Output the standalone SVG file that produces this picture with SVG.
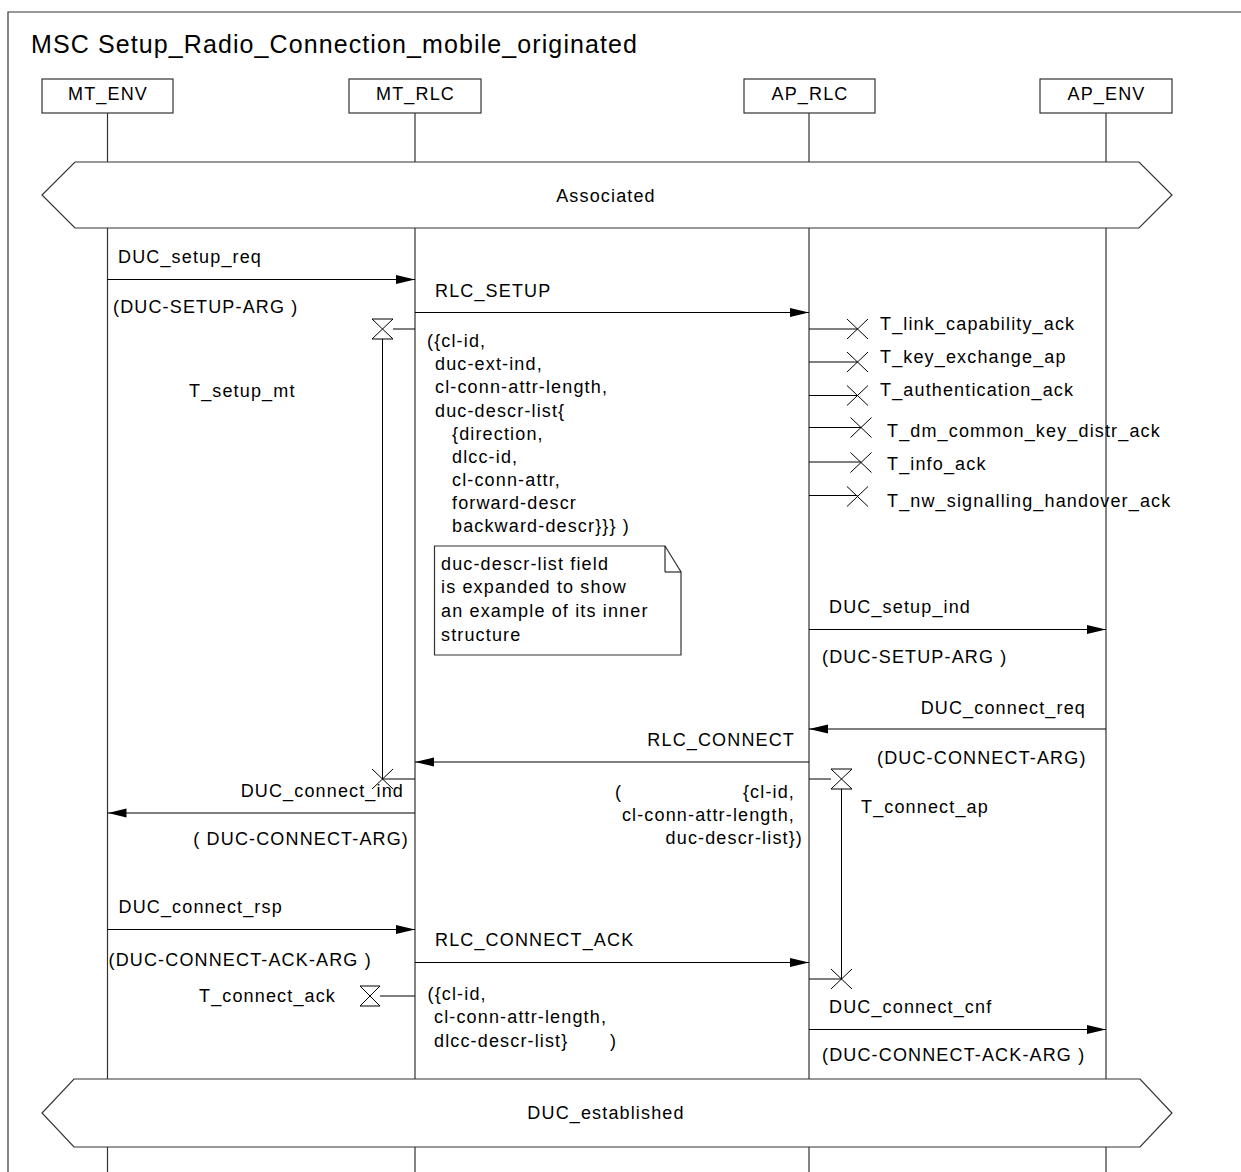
<svg xmlns="http://www.w3.org/2000/svg" width="1241" height="1172" viewBox="0 0 1241 1172">
<style>
text{font-family:"Liberation Sans",Arial,sans-serif;font-size:18px;letter-spacing:1.15px;fill:#000}
.title{font-size:25px;letter-spacing:1.1px}
.e{text-anchor:end}
.m{text-anchor:middle}
.ll{stroke:#333;stroke-width:1.2;fill:none}
.msg{stroke:#000;stroke-width:1.2;fill:none}
.box{fill:#fff;stroke:#333;stroke-width:1.2}
.tm{fill:#fff;stroke:#000;stroke-width:1}
.x{stroke:#000;stroke-width:1;fill:none}
</style>
<defs>
<marker id="ah" markerUnits="userSpaceOnUse" markerWidth="19" markerHeight="10" refX="19" refY="4.5" orient="auto">
<path d="M0,0 L19,4.5 L0,9 z" fill="#000"/>
</marker>
</defs>
<rect width="1241" height="1172" fill="#fff"/>
<path d="M8,1172 V12 H1241" fill="none" stroke="#333" stroke-width="1.2"/>
<text class="title" x="31" y="53">MSC Setup_Radio_Connection_mobile_originated</text>

<g id="lifelines">
<path class="ll" d="M107.5,113 V162 M107.5,228 V1079 M107.5,1147 V1172"/>
<path class="ll" d="M415,113 V162 M415,228 V1079 M415,1147 V1172"/>
<path class="ll" d="M809,113 V162 M809,228 V1079 M809,1147 V1172"/>
<path class="ll" d="M1106,113 V162 M1106,228 V1079 M1106,1147 V1172"/>
</g>

<g id="MT_ENV"><rect class="box" x="42" y="79" width="131" height="34"/><text class="m" x="108" y="100">MT_ENV</text></g>
<g id="MT_RLC"><rect class="box" x="349" y="79" width="132" height="34"/><text class="m" x="415.5" y="100">MT_RLC</text></g>
<g id="AP_RLC"><rect class="box" x="744" y="79" width="131" height="34"/><text class="m" x="810" y="100">AP_RLC</text></g>
<g id="AP_ENV"><rect class="box" x="1040" y="79" width="132" height="34"/><text class="m" x="1106.5" y="100">AP_ENV</text></g>

<g id="cond_associated">
<path class="box" d="M75,162 H1139 L1172,195 L1139,228 H75 L42,195 Z"/>
<text class="m" x="606" y="201.5">Associated</text>
</g>

<g id="cond_established">
<path class="box" d="M74,1079 H1140 L1172,1113 L1140,1147 H74 L42,1113 Z"/>
<text class="m" x="606" y="1119">DUC_established</text>
</g>

<g id="connectors">
<line class="msg" x1="107.5" y1="279.5" x2="415" y2="279.5" marker-end="url(#ah)"/>
<line class="msg" x1="415" y1="312.5" x2="809" y2="312.5" marker-end="url(#ah)"/>
<line class="msg" x1="809" y1="629.5" x2="1106" y2="629.5" marker-end="url(#ah)"/>
<line class="msg" x1="1106" y1="729" x2="809" y2="729" marker-end="url(#ah)"/>
<line class="msg" x1="809" y1="762" x2="415" y2="762" marker-end="url(#ah)"/>
<line class="msg" x1="415" y1="813" x2="107.5" y2="813" marker-end="url(#ah)"/>
<line class="msg" x1="107.5" y1="929.5" x2="415" y2="929.5" marker-end="url(#ah)"/>
<line class="msg" x1="415" y1="962.5" x2="809" y2="962.5" marker-end="url(#ah)"/>
<line class="msg" x1="809" y1="1029.5" x2="1106" y2="1029.5" marker-end="url(#ah)"/>
</g>

<g id="msg_labels">
<text x="118" y="263">DUC_setup_req</text>
<text x="113" y="313">(DUC-SETUP-ARG )</text>
<text x="435" y="297">RLC_SETUP</text>
<text x="427" y="347">({cl-id,</text>
<text x="435" y="370">duc-ext-ind,</text>
<text x="435" y="393">cl-conn-attr-length,</text>
<text x="435" y="416.5">duc-descr-list{</text>
<text x="452" y="439.5">{direction,</text>
<text x="452" y="462.5">dlcc-id,</text>
<text x="452" y="485.5">cl-conn-attr,</text>
<text x="452" y="508.5">forward-descr</text>
<text x="452" y="532">backward-descr}}} )</text>
<text x="829" y="613">DUC_setup_ind</text>
<text x="822" y="663">(DUC-SETUP-ARG )</text>
<text class="e" x="1086" y="714">DUC_connect_req</text>
<text x="877" y="764">(DUC-CONNECT-ARG)</text>
<text class="e" x="795" y="746">RLC_CONNECT</text>
<text x="615" y="798">(</text>
<text class="e" x="795" y="798">{cl-id,</text>
<text class="e" x="795" y="821">cl-conn-attr-length,</text>
<text class="e" x="803" y="844">duc-descr-list})</text>
<text class="e" x="404" y="797">DUC_connect_ind</text>
<text class="e" x="409" y="845">( DUC-CONNECT-ARG)</text>
<text x="118.5" y="913">DUC_connect_rsp</text>
<text x="108.5" y="966">(DUC-CONNECT-ACK-ARG )</text>
<text x="435" y="946">RLC_CONNECT_ACK</text>
<text x="427.5" y="1000">({cl-id,</text>
<text x="434" y="1023">cl-conn-attr-length,</text>
<text x="434" y="1047">dlcc-descr-list}</text>
<text x="610" y="1047">)</text>
<text x="829" y="1013">DUC_connect_cnf</text>
<text x="822" y="1061">(DUC-CONNECT-ACK-ARG )</text>
</g>

<g id="comment">
<path class="box" d="M434.5,546 H665 L681,572 V655 H434.5 Z"/>
<path class="x" d="M665,546 V572 H681"/>
<text x="441" y="570">duc-descr-list field</text>
<text x="441" y="593">is expanded to show</text>
<text x="441" y="617">an example of its inner</text>
<text x="441" y="641">structure</text>
</g>

<g id="T_setup_mt">
<line class="x" x1="393" y1="329" x2="415" y2="329"/>
<path class="tm" d="M372,319 H393 L372,339 H393 Z"/>
<line class="x" x1="382.5" y1="339" x2="382.5" y2="779"/>
<path class="x" d="M372,769 L393,789 M393,769 L372,789 M382.5,779 H415"/>
<text x="189" y="397">T_setup_mt</text>
</g>

<g id="ap_timeouts">
<path class="x" d="M809,329 H857.5 M847,319 L868,339 M868,319 L847,339"/>
<text x="880" y="330">T_link_capability_ack</text>
<path class="x" d="M809,362 H857.5 M847,352 L868,372 M868,352 L847,372"/>
<text x="880" y="363">T_key_exchange_ap</text>
<path class="x" d="M809,395.5 H857.5 M847,385.5 L868,405.5 M868,385.5 L847,405.5"/>
<text x="880" y="396">T_authentication_ack</text>
<path class="x" d="M809,427.5 H861 M850.5,417.5 L871.5,437.5 M871.5,417.5 L850.5,437.5"/>
<text x="887" y="437">T_dm_common_key_distr_ack</text>
<path class="x" d="M809,462 H861 M850.5,452.5 L871.5,472.5 M871.5,452.5 L850.5,472.5"/>
<text x="887" y="470">T_info_ack</text>
<path class="x" d="M809,495.5 H857.5 M847,486.5 L868,506.5 M868,486.5 L847,506.5"/>
<text x="887" y="507">T_nw_signalling_handover_ack</text>
</g>

<g id="T_connect_ap">
<line class="x" x1="809" y1="779" x2="831" y2="779"/>
<path class="tm" d="M831,769 H852 L831,789 H852 Z"/>
<line class="x" x1="841.5" y1="789" x2="841.5" y2="979"/>
<path class="x" d="M831,969 L852,989 M852,969 L831,989 M809,979 H841.5"/>
<text x="861" y="813">T_connect_ap</text>
</g>

<g id="T_connect_ack">
<line class="x" x1="380" y1="996" x2="415" y2="996"/>
<path class="tm" d="M360,986 H380 L360,1006 H380 Z"/>
<text x="199" y="1002">T_connect_ack</text>
</g>
</svg>
